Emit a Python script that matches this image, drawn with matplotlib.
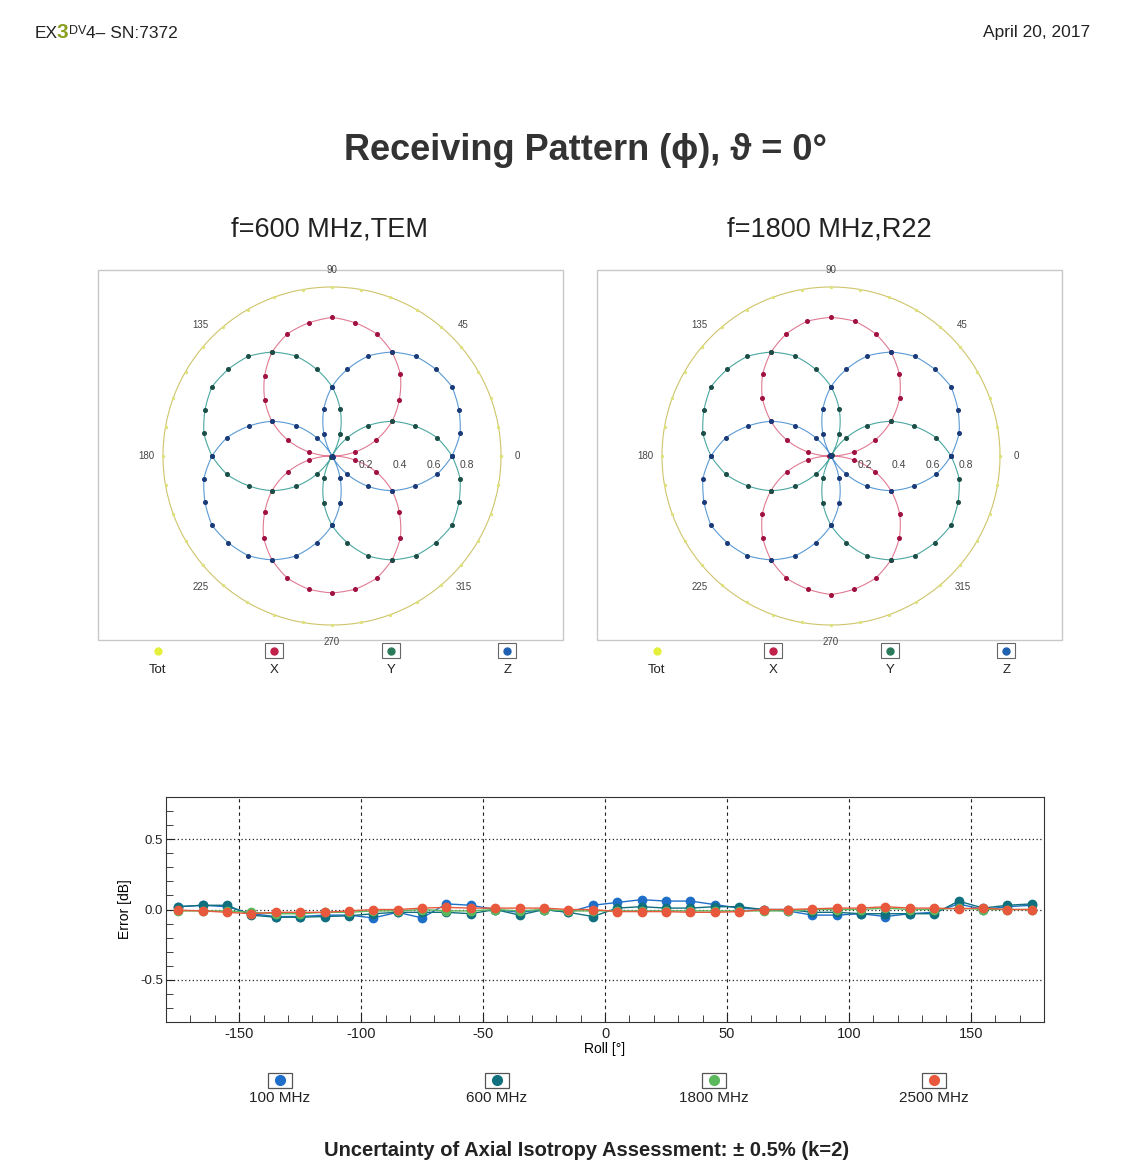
"""Receiving pattern (phi) polar plots and axial isotropy error vs roll angle."""

import numpy as np
import matplotlib.pyplot as plt
from matplotlib.patches import Rectangle
from matplotlib.ticker import MultipleLocator

plt.rcParams['font.family'] = ['Liberation Sans', 'DejaVu Sans']

# ---- polar data: normalised sensor response vs phi, theta = 0 ----
phi_deg = [0, 10, 20, 30, 40, 50, 60, 70, 80, 90, 100, 110, 120, 130, 140, 150, 160, 170,
           180, 190, 200, 210, 220, 230, 240, 250, 260, 270, 280, 290, 300, 310, 320, 330, 340, 350]

tot_600 = [1.0] * 36
x_600 = [0.00, 0.14, 0.28, 0.41, 0.52, 0.63, 0.71, 0.77, 0.80, 0.82, 0.80, 0.77, 0.71, 0.62, 0.52, 0.41, 0.28, 0.14,
         0.00, 0.14, 0.28, 0.41, 0.52, 0.63, 0.71, 0.77, 0.80, 0.81, 0.80, 0.77, 0.71, 0.63, 0.52, 0.41, 0.28, 0.14]
y_600 = [0.71, 0.63, 0.52, 0.41, 0.28, 0.14, 0.00, 0.14, 0.28, 0.41, 0.52, 0.63, 0.71, 0.77, 0.80, 0.82, 0.80, 0.77,
         0.71, 0.63, 0.52, 0.41, 0.28, 0.14, 0.01, 0.14, 0.28, 0.41, 0.52, 0.63, 0.71, 0.77, 0.80, 0.82, 0.80, 0.77]
z_600 = [0.71, 0.77, 0.80, 0.82, 0.80, 0.77, 0.71, 0.63, 0.52, 0.41, 0.28, 0.14, 0.00, 0.14, 0.28, 0.41, 0.52, 0.63,
         0.71, 0.77, 0.80, 0.82, 0.80, 0.77, 0.71, 0.63, 0.52, 0.41, 0.28, 0.14, 0.01, 0.14, 0.28, 0.41, 0.52, 0.63]

tot_1800 = [1.0] * 36
x_1800 = [0.00, 0.14, 0.28, 0.41, 0.53, 0.63, 0.71, 0.77, 0.81, 0.82, 0.81, 0.77, 0.71, 0.63, 0.53, 0.41, 0.28, 0.14,
          0.01, 0.14, 0.28, 0.41, 0.53, 0.63, 0.71, 0.77, 0.80, 0.82, 0.80, 0.77, 0.71, 0.63, 0.53, 0.41, 0.28, 0.14]
y_1800 = [0.71, 0.63, 0.52, 0.41, 0.28, 0.14, 0.01, 0.14, 0.28, 0.41, 0.52, 0.63, 0.71, 0.77, 0.80, 0.82, 0.80, 0.77,
          0.71, 0.63, 0.52, 0.41, 0.28, 0.14, 0.00, 0.14, 0.28, 0.41, 0.52, 0.63, 0.71, 0.77, 0.80, 0.82, 0.80, 0.77]
z_1800 = [0.71, 0.77, 0.80, 0.82, 0.80, 0.77, 0.71, 0.63, 0.52, 0.41, 0.28, 0.14, 0.01, 0.14, 0.28, 0.41, 0.52, 0.63,
          0.71, 0.77, 0.80, 0.82, 0.80, 0.77, 0.71, 0.63, 0.52, 0.41, 0.28, 0.14, 0.00, 0.14, 0.28, 0.41, 0.52, 0.63]

angle_ticks = [0, 45, 90, 135, 180, 225, 270, 315]
r_ticks = [0.2, 0.4, 0.6, 0.8]
channel_names = ['Tot', 'X', 'Y', 'Z']

# ---- isotropy error vs roll ----
roll_deg = [-175, -165, -155, -145, -135, -125, -115, -105, -95, -85, -75, -65, -55, -45, -35, -25, -15, -5,
            5, 15, 25, 35, 45, 55, 65, 75, 85, 95, 105, 115, 125, 135, 145, 155, 165, 175]
err_100 = [0.02, 0.03, 0.02, -0.03, -0.05, -0.05, -0.04, -0.04, -0.06, -0.02, -0.06, 0.04, 0.03, 0.00, -0.02, 0.00, -0.02, 0.03,
           0.05, 0.07, 0.06, 0.06, 0.035, 0.01, 0.00, -0.01, -0.04, -0.04, -0.03, -0.05, -0.03, -0.02, 0.04, 0.00, 0.02, 0.03]
err_600 = [0.02, 0.03, 0.03, -0.04, -0.055, -0.055, -0.05, -0.045, -0.03, -0.02, -0.02, -0.02, -0.03, 0.00, -0.04, 0.00, -0.02, -0.05,
           0.01, 0.02, 0.01, 0.01, 0.02, 0.02, 0.00, 0.00, -0.02, -0.02, -0.03, -0.03, -0.03, -0.03, 0.06, 0.01, 0.03, 0.04]
err_1800 = [-0.01, -0.01, -0.01, -0.02, -0.03, -0.03, -0.02, -0.02, -0.01, -0.01, 0.00, -0.01, -0.01, 0.00, -0.01, 0.00, -0.01, -0.01,
            -0.01, -0.01, -0.01, -0.01, -0.01, -0.01, -0.01, -0.01, 0.00, 0.00, 0.00, 0.01, 0.00, 0.00, 0.01, 0.00, 0.00, 0.00]
err_2500 = [-0.005, -0.01, -0.02, -0.03, -0.02, -0.02, -0.02, -0.01, 0.00, 0.00, 0.01, 0.015, 0.01, 0.01, 0.01, 0.01, 0.00, 0.00,
            -0.015, -0.015, -0.015, -0.02, -0.02, -0.015, 0.00, 0.00, 0.005, 0.01, 0.01, 0.02, 0.01, 0.01, 0.005, 0.01, 0.00, 0.00]
freq_labels = ['100 MHz', '600 MHz', '1800 MHz', '2500 MHz']

W, H = 1138, 1166
fig = plt.figure(figsize=(W / 100, H / 100), dpi=100)

# page overlay in pixel coordinates for header, boxes and legends
page = fig.add_axes([0, 0, 1, 1])
page.set_xlim(0, W)
page.set_ylim(H, 0)
page.axis('off')
page.set_zorder(0)


def px_axes(x0, y0, x1, y1, **kw):
    return fig.add_axes([x0 / W, 1 - y1 / H, (x1 - x0) / W, (y1 - y0) / H], **kw)


page.text(35, 33, 'EX', fontsize=12.5, va='center', ha='left', color='#222')
page.text(57, 32, '3', fontsize=15, fontweight='bold', va='center', ha='left', color='#8aa020')
page.text(69, 31, 'DV', fontsize=9, va='center', ha='left', color='#222')
page.text(86, 33, '4– SN:7372', fontsize=12.5, va='center', ha='left', color='#222')
page.text(1090, 33, 'April 20, 2017', fontsize=12.5, va='center', ha='right', color='#222')
page.text(585, 151, 'Receiving Pattern (ϕ), ϑ = 0°', fontsize=26, fontweight='bold',
          ha='center', va='center', color='#333')
page.text(587, 1150, 'Uncertainty of Axial Isotropy Assessment: ± 0.5% (k=2)',
          fontsize=14.5, fontweight='bold', ha='center', va='center', color='#222')

# ---- polar panels ----
line_colors = ['#cfc46a', '#e07a92', '#4aa7a0', '#5a9ad4']
dot_colors = ['#dfe27a', '#a01040', '#1c4e48', '#1a3a78']
legend_dot = ['#e4f03a', '#c0204a', '#2a7a5a', '#2060b0']

panels = [
    (332, 'f=600 MHz,TEM', [tot_600, x_600, y_600, z_600]),
    (831, 'f=1800 MHz,R22', [tot_1800, x_1800, y_1800, z_1800]),
]
radius_px = 169
cy = 456
# close each trace by repeating the first sample one full turn later
theta = np.deg2rad(phi_deg + [phi_deg[0] + 360])

for cx, subtitle, series in panels:
    page.text(cx - 2, 230, subtitle, fontsize=19.5, ha='center', va='center', color='#222')
    page.add_patch(Rectangle((cx - 234, 270), 465, 370, fill=False, ec='#c8c8c8', lw=1))

    ax = px_axes(cx - radius_px, cy - radius_px, cx + radius_px, cy + radius_px, projection='polar')
    ax.set_zorder(1)
    ax.patch.set_alpha(0)
    for k, (vals, lc, dc) in enumerate(zip(series, line_colors, dot_colors)):
        r = vals + [vals[0]]
        ln, = ax.plot(theta, r, color=lc, lw=0.8, clip_on=False)
        # draw segments along theta so lobes come out round, as in the original plot
        ln.get_path()._interpolation_steps = 12
        ax.plot(theta, r, ls='none', marker='o', ms=1.4 if k == 0 else 2.6,
                mfc=dc, mec=dc, clip_on=False)
    ax.set_ylim(0, 1.0)
    ax.grid(False)
    ax.spines['polar'].set_visible(False)
    ax.set_thetagrids(angle_ticks, [str(a) for a in angle_ticks], fontsize=7, color='#444')
    ax.tick_params(axis='x', pad=1.5)
    ax.set_yticks(r_ticks)
    ax.set_yticklabels([])
    for rv in r_ticks:
        ax.annotate(f'{rv:.1f}', (0, rv), xytext=(0, -3), textcoords='offset points',
                    ha='center', va='top', fontsize=7.5, color='#444')

    # channel legend
    for i, name in enumerate(channel_names):
        lx = cx - 174 + i * 116.5
        if i > 0:
            page.add_patch(Rectangle((lx - 9, 643), 18, 15, fc='white', ec='#666', lw=0.8))
        page.plot([lx], [651], marker='o', ms=5, color=legend_dot[i], ls='none')
        page.text(lx, 670, name, fontsize=9.5, ha='center', va='center', color='#222')

# ---- isotropy error plot ----
ax = px_axes(166, 797, 1044, 1022)
err_colors = ['#1f6fc8', '#10707e', '#5cb85c', '#e8583c']
for vals, c in zip([err_100, err_600, err_1800, err_2500], err_colors):
    ax.plot(roll_deg, vals, color=c, lw=1.0, marker='o', ms=6, mec=c, mfc=c)
ax.set_xlim(-180, 180)
ax.set_ylim(-0.8, 0.8)
ax.set_xticks([-150, -100, -50, 0, 50, 100, 150])
ax.set_xticklabels(['-150', '-100', '-50', '0', '50', '100', '150'])
ax.set_yticks([-0.5, 0.0, 0.5])
ax.set_yticklabels(['-0.5', '0.0', '0.5'])
ax.xaxis.set_minor_locator(MultipleLocator(10))
ax.yaxis.set_minor_locator(MultipleLocator(0.1))
ax.tick_params(which='both', direction='in', top=False, right=False, colors='#222')
ax.tick_params(which='major', length=6, labelsize=10.5)
ax.tick_params(which='minor', length=5)
ax.tick_params(axis='y', labelsize=9.5, pad=2)
ax.grid(axis='x', which='major', ls=(0, (3, 3)), color='#222', lw=0.8)
ax.grid(axis='y', which='major', ls=(0, (1, 2)), color='#222', lw=0.9)
ax.set_axisbelow(True)
ax.set_xlabel('Roll [°]', fontsize=10, labelpad=1)
ax.set_ylabel('Error [dB]', fontsize=10, labelpad=6)
for s in ax.spines.values():
    s.set_color('#333')

# frequency legend
for i, (label, c) in enumerate(zip(freq_labels, err_colors)):
    lx = [280, 497, 714, 934][i]
    page.add_patch(Rectangle((lx - 12, 1073), 24, 15, fc='white', ec='#555', lw=0.9))
    page.plot([lx], [1080], marker='o', ms=7, color=c, ls='none')
    page.text(lx, 1098, label, fontsize=11, ha='center', va='center', color='#222')

fig.savefig('out.png', dpi=100, facecolor='white')
